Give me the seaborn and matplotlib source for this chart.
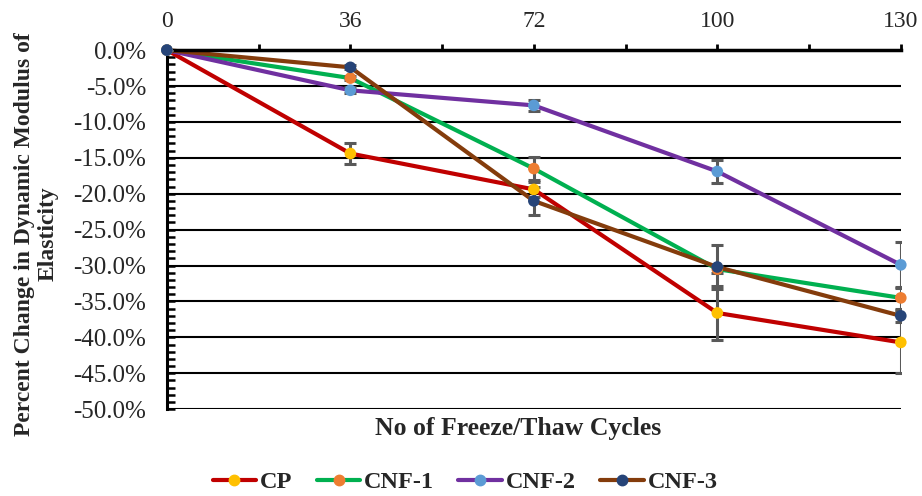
import numpy as np
import pandas as pd
import seaborn as sns
import matplotlib
matplotlib.use("Agg")
import matplotlib.pyplot as plt
from matplotlib.ticker import FuncFormatter, MultipleLocator
from matplotlib.lines import Line2D

# Freeze/thaw cycles (category axis) and percent change in dynamic modulus
cycles = ["0", "36", "72", "100", "130"]
series = ["CP", "CNF-1", "CNF-2", "CNF-3"]
cp = [0.0, -14.4, -19.4, -36.6, -40.7]
cnf1 = [0.0, -3.9, -16.5, -30.5, -34.5]
cnf2 = [0.0, -5.6, -7.7, -16.9, -29.9]
cnf3 = [0.0, -2.4, -21.0, -30.2, -37.0]
cp_err = [0.0, 1.4, 1.0, 3.7, 4.3]
cnf1_err = [0.0, 0.3, 1.6, 0.5, 1.5]
cnf2_err = [0.0, 0.4, 0.8, 1.6, 3.2]
cnf3_err = [0.0, 0.3, 2.0, 3.0, 0.8]

line_colors = ["#C00000", "#00B050", "#7030A0", "#843C0C"]
marker_colors = ["#FFC000", "#ED7D31", "#5B9BD5", "#264478"]

values = [cp, cnf1, cnf2, cnf3]
errors = [cp_err, cnf1_err, cnf2_err, cnf3_err]

df = pd.DataFrame({
    "pos": np.tile(np.arange(len(cycles)), len(series)),
    "change": np.concatenate(values),
    "err": np.concatenate(errors),
    "series": np.repeat(series, len(cycles)),
})

sns.set_theme(style="white")
plt.rcParams["font.family"] = ["Liberation Serif", "DejaVu Serif"]

fig = plt.figure(figsize=(9.22, 4.96), dpi=100)
ax = fig.add_axes([0.181, 0.175, 0.796, 0.724])

# Lines
sns.lineplot(data=df, x="pos", y="change", hue="series", hue_order=series,
             palette=line_colors, linewidth=3.0, ax=ax, legend=False,
             sort=False, estimator=None)
for ln in ax.lines:
    ln.set_clip_on(False)
    ln.set_solid_capstyle("round")

# Error bars
for name in series:
    sub = df[df["series"] == name]
    ax.errorbar(sub["pos"], sub["change"], yerr=sub["err"], fmt="none",
                ecolor="#595959", elinewidth=2.2, capsize=4, capthick=2.2,
                zorder=3)

# Markers
sns.scatterplot(data=df, x="pos", y="change", hue="series", hue_order=series,
                palette=marker_colors, s=70, edgecolor="none", ax=ax,
                legend=False, zorder=4, clip_on=False)

ax.set_xlim(0, len(cycles) - 1)
ax.set_ylim(-50, 0)

# Horizontal gridlines every 5 %
for yv in np.arange(-50, 0, 5):
    ax.axhline(yv, color="black", linewidth=1.5, zorder=1)

# Category axis on top
ax.xaxis.tick_top()
ax.set_xticks(range(len(cycles)))
ax.set_xticklabels(cycles)
ax.xaxis.set_minor_locator(MultipleLocator(0.5))
ax.tick_params(axis="x", which="both", direction="out", length=4, width=2,
               color="black", top=True, bottom=False, pad=9, labelsize=17)

ax.yaxis.set_major_locator(MultipleLocator(5))
ax.yaxis.set_minor_locator(MultipleLocator(1))
ax.yaxis.set_major_formatter(FuncFormatter(lambda v, p: f"{v:.1f}%" if abs(v) > 1e-9 else "0.0%"))
ax.tick_params(axis="y", which="both", direction="in", length=6, width=1.8,
               color="black", left=True, right=False, pad=15, labelsize=18)

for side in ["right", "bottom"]:
    ax.spines[side].set_visible(False)
ax.spines["top"].set_linewidth(2.5)
ax.spines["top"].set_color("black")
ax.spines["left"].set_linewidth(2.2)
ax.spines["left"].set_color("black")

ax.set_xlabel("")
ax.set_ylabel("")

fig.text(36 / 922, 1 - 234 / 496, "Percent Change in Dynamic Modulus of\nElasticity",
         rotation=90, ha="center", va="center", multialignment="center",
         fontsize=17, fontweight="bold", linespacing=1.15)
fig.text(518 / 922, 1 - 428 / 496, "No of Freeze/Thaw Cycles",
         ha="center", va="center", fontsize=18.5, fontweight="bold")

handles = [Line2D([0], [0], color=lc, linewidth=3.0, marker="o",
                  markerfacecolor=mc, markeredgecolor=mc, markersize=7.5)
           for lc, mc in zip(line_colors, marker_colors)]
fig.legend(handles, series, loc="center", bbox_to_anchor=(465 / 922, 1 - 482 / 496),
           ncol=4, frameon=False, handlelength=1.8, handletextpad=0.15,
           columnspacing=1.0, prop={"weight": "bold", "size": 17.5})

fig.savefig("out.png", dpi=100)
